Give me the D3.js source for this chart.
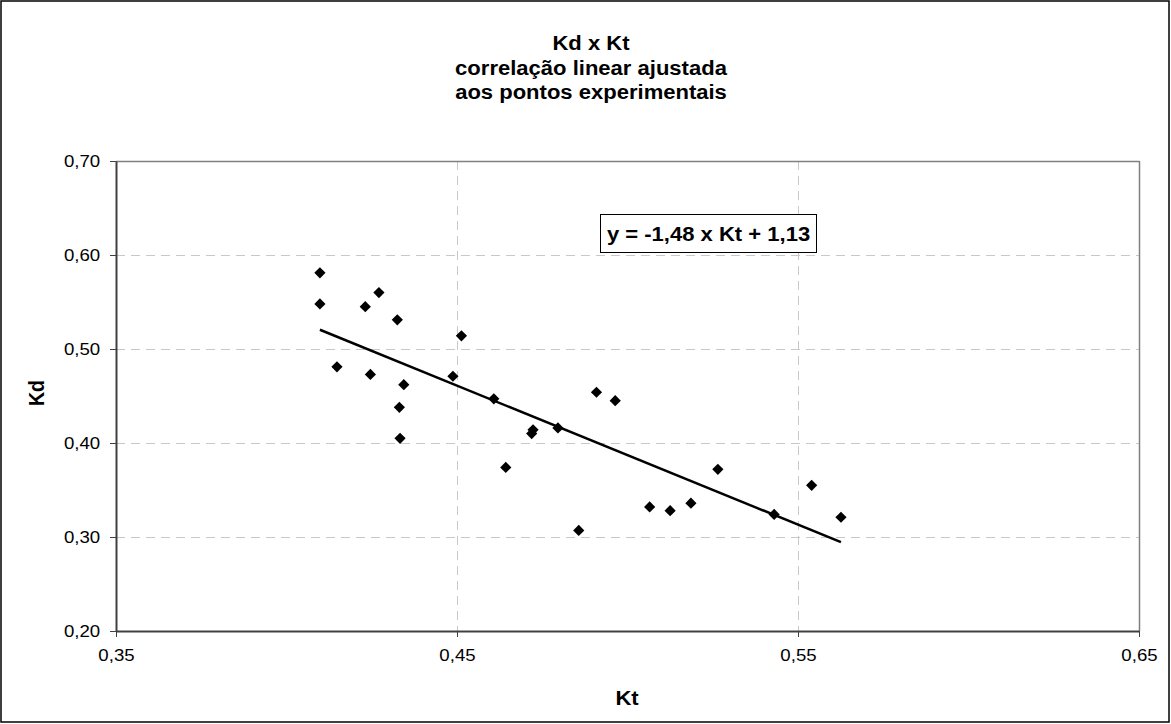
<!DOCTYPE html>
<html>
<head>
<meta charset="utf-8">
<script src="https://cdn.jsdelivr.net/npm/d3@7"></script>
<style>
  html, body { margin: 0; padding: 0; background: #fff; }
  svg { display: block; font-family: "Liberation Sans", Arial, sans-serif; }
</style>
</head>
<body>
<svg id="chart" width="1171" height="724"></svg>
<script>
// ---- data ----
const kt = [0.4098, 0.4098, 0.4271, 0.4231, 0.4325, 0.4513, 0.4148, 0.4246, 0.4344,
            0.4331, 0.4333, 0.4488, 0.4608, 0.4723, 0.4719, 0.4796, 0.4909, 0.4964,
            0.4643, 0.4857, 0.5065, 0.5125, 0.5186, 0.5265, 0.5430, 0.5540, 0.5626];
const kd = [0.581, 0.548, 0.560, 0.545, 0.531, 0.514, 0.481, 0.473, 0.462,
            0.438, 0.405, 0.471, 0.447, 0.414, 0.410, 0.416, 0.454, 0.445,
            0.374, 0.307, 0.332, 0.328, 0.336, 0.372, 0.324, 0.355, 0.321];
const trendKt = [0.4098, 0.5626];
const trendKd = [0.5205, 0.2945];
const xTicks = [0.35, 0.45, 0.55, 0.65];
const yTicks = [0.20, 0.30, 0.40, 0.50, 0.60, 0.70];
const titleLines = ["Kd x Kt", "correlação linear ajustada", "aos pontos experimentais"];
const equationText = "y = -1,48 x Kt + 1,13";
const xLabel = "Kt";
const yLabel = "Kd";

// ---- layout ----
const svg = d3.select("#chart");
const L = 116, R = 1139, T = 161, B = 631;
const SX = 1.13; // horizontal stretch of the lettering in the original
const x = d3.scaleLinear().domain([0.35, 0.65]).range([L, R]);
const y = d3.scaleLinear().domain([0.20, 0.70]).range([B, T]);
const fmt = d => d3.format(".2f")(d).replace(".", ",");

// outer frame
svg.append("rect").attr("x", 1).attr("y", 1).attr("width", 1168).attr("height", 721)
  .attr("fill", "#fff").attr("stroke", "#000").attr("stroke-width", 1.5);

// gridlines
const grid = svg.append("g");
grid.selectAll("line.h").data(yTicks.filter(d => d > 0.2 && d < 0.7)).join("line")
  .attr("x1", L).attr("x2", R).attr("y1", d => Math.round(y(d)) + 0.5).attr("y2", d => Math.round(y(d)) + 0.5)
  .attr("stroke", "#c8c8c8").attr("stroke-dasharray", "9,6");
grid.selectAll("line.v").data(xTicks.filter(d => d > 0.35 && d < 0.65)).join("line")
  .attr("x1", d => Math.round(x(d)) + 0.5).attr("x2", d => Math.round(x(d)) + 0.5).attr("y1", T).attr("y2", B)
  .attr("stroke", "#c8c8c8").attr("stroke-dasharray", "9,6");

// plot frame top/right
svg.append("line").attr("x1", L).attr("x2", R + 0.5).attr("y1", T + 0.5).attr("y2", T + 0.5).attr("stroke", "#808080").attr("stroke-width", 1.5);
svg.append("line").attr("x1", R + 0.5).attr("x2", R + 0.5).attr("y1", T).attr("y2", B).attr("stroke", "#808080").attr("stroke-width", 1.5);

// axes
const xAxis = d3.axisBottom(x).tickValues(xTicks).tickFormat(fmt).tickSizeOuter(0).tickSizeInner(6).tickPadding(10);
const yAxis = d3.axisLeft(y).tickValues(yTicks).tickFormat(fmt).tickSizeOuter(0).tickSizeInner(6).tickPadding(8);
const gx = svg.append("g").attr("transform", `translate(0,${B})`).call(xAxis);
const gy = svg.append("g").attr("transform", `translate(${L},0)`).call(yAxis);
[gx, gy].forEach(g => {
  g.attr("font-size", null).attr("font-family", null);
  g.select(".domain").attr("stroke", "#404040").attr("stroke-width", 2);
  g.selectAll(".tick line").attr("stroke", "#404040").attr("stroke-width", 1);
  g.selectAll(".tick text").attr("fill", "#000").attr("font-size", 16.5)
    .attr("transform", `scale(${SX},1)`);
});
gx.selectAll(".tick text").attr("dy", "0.85em");

// trend line
svg.append("line")
  .attr("x1", x(trendKt[0])).attr("y1", y(trendKd[0]))
  .attr("x2", x(trendKt[1])).attr("y2", y(trendKd[1]))
  .attr("stroke", "#000").attr("stroke-width", 2.5);

// points
const diamond = d3.symbol().type(d3.symbolDiamond2).size(80);
svg.append("g").selectAll("path").data(kt.map((k, i) => [k, kd[i]])).join("path")
  .attr("transform", d => `translate(${x(d[0])},${y(d[1])})`)
  .attr("d", diamond).attr("fill", "#000");

// stretched text helper
function stext(parent, tx, ty, str, size, opts = {}) {
  return parent.append("text")
    .attr("transform", `translate(${tx},${ty}) ${opts.rotate ? "rotate(-90) scale(1," + SX + ")" : "scale(" + SX + ",1)"}`)
    .attr("text-anchor", "middle").attr("font-weight", "bold").attr("font-size", size).text(str);
}

// equation box
const eq = svg.append("g");
eq.append("rect").attr("x", 600.5).attr("y", 214.5).attr("width", 216).attr("height", 38)
  .attr("fill", "#fff").attr("stroke", "#000").attr("stroke-width", 1);
stext(eq, 708.5, 241, equationText, 19.5);

// title
titleLines.forEach((t, i) => stext(svg, 591, 50 + i * 24.5, t, 19.5));

// axis labels
stext(svg, 627, 705, xLabel, 19.5);
stext(svg, 44, 393, yLabel, 19.5, { rotate: true });
</script>
</body>
</html>
